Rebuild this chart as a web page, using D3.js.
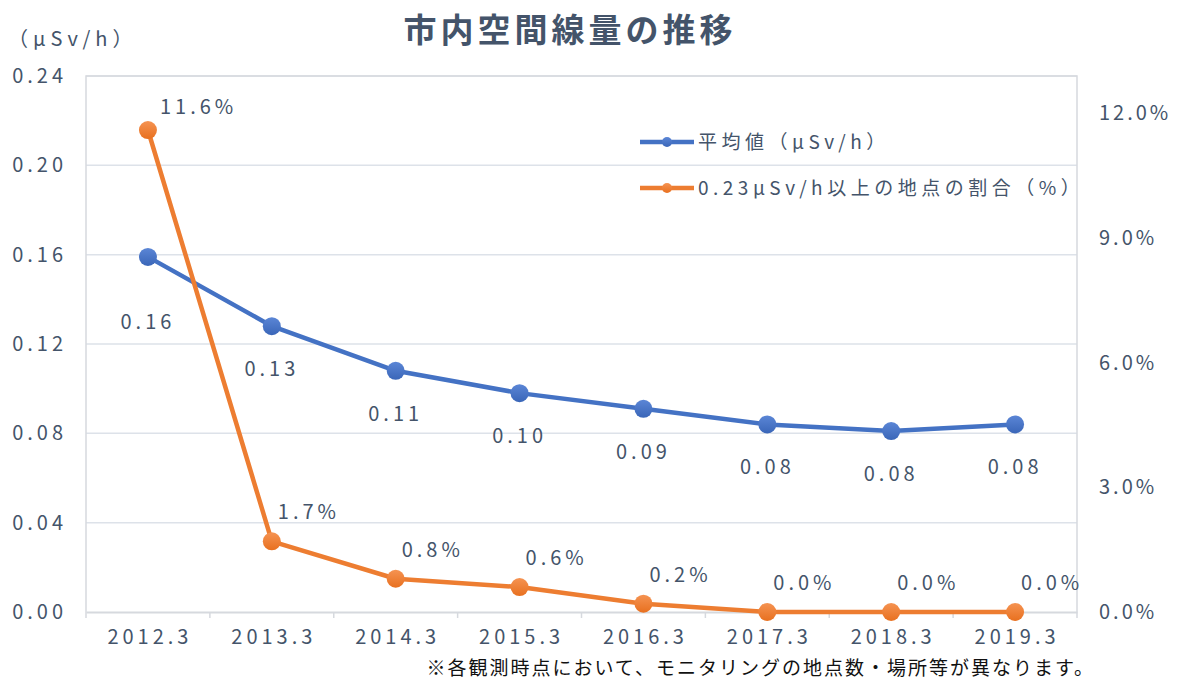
<!DOCTYPE html>
<html>
<head>
<meta charset="utf-8">
<script src="https://cdn.jsdelivr.net/npm/d3@7/dist/d3.min.js"></script>
<style>
  body { margin: 0; background: #fff; }
  text { font-family: "Noto Sans CJK JP", "Noto Sans", sans-serif; fill: #44546a; }
</style>
</head>
<body>
<svg id="chart" width="1178" height="684"></svg>
<script>
const years = ['2012.3', '2013.3', '2014.3', '2015.3', '2016.3', '2017.3', '2018.3', '2019.3'];
const avgDose = [0.159, 0.128, 0.108, 0.098, 0.091, 0.084, 0.081, 0.084];
const avgLabels = ['0.16', '0.13', '0.11', '0.10', '0.09', '0.08', '0.08', '0.08'];
const overShare = [11.6, 1.7, 0.8, 0.6, 0.2, 0.0, 0.0, 0.0];
const leftTicks = [0, 0.04, 0.08, 0.12, 0.16, 0.20, 0.24];
const rightTicks = [0, 3, 6, 9, 12];

const svg = d3.select('#chart');
const m = {left: 86, right: 1077, top: 76, bottom: 612};
const LS = '4px';

const x = d3.scaleBand().domain(years).range([m.left, m.right]);
const yL = d3.scaleLinear().domain([0, 0.24]).range([m.bottom, m.top]);
const yR = d3.scaleLinear().domain([0, 12.9]).range([m.bottom, m.top]);

const defs = svg.append('defs');
[['gBlue', '#5b86d6', '#3a66b8'], ['gOrange', '#f59352', '#e8701f']].forEach(([id, c1, c2]) => {
  const g = defs.append('linearGradient').attr('id', id).attr('x1', 0).attr('y1', 0).attr('x2', 0).attr('y2', 1);
  g.append('stop').attr('offset', '0%').attr('stop-color', c1);
  g.append('stop').attr('offset', '100%').attr('stop-color', c2);
});

// title
svg.append('text').attr('x', 570).attr('y', 42).attr('text-anchor', 'middle')
  .style('font-size', '33px').style('font-weight', 'bold').style('letter-spacing', '4px')
  .text('市内空間線量の推移');

svg.append('text').attr('x', 8).attr('y', 46).style('font-size', '20px').style('letter-spacing', '5px')
  .text('（μSv/h）');

// grid
svg.append('g').selectAll('line').data(leftTicks.slice(1)).join('line')
  .attr('x1', m.left).attr('x2', m.right)
  .attr('y1', d => yL(d)).attr('y2', d => yL(d))
  .attr('stroke', '#dde2e9').attr('stroke-width', 1.5);

// frame
svg.append('path')
  .attr('d', `M${m.left},${m.bottom}V${m.top}H${m.right}V${m.bottom}`)
  .attr('fill', 'none').attr('stroke', '#d6d9de').attr('stroke-width', 1.5);

// x axis
const xAxis = svg.append('g').attr('transform', `translate(0,${m.bottom})`)
  .call(d3.axisBottom(x).tickSize(0).tickPadding(18));
xAxis.select('.domain').attr('stroke', '#d6d9de').attr('stroke-width', 2);
xAxis.selectAll('text').style('font-size', '20px').style('letter-spacing', LS)
  .attr('dx', 2).attr('fill', '#44546a');
xAxis.selectAll('.sep').data(d3.range(years.length + 1)).join('line')
  .attr('x1', i => m.left + i * x.bandwidth()).attr('x2', i => m.left + i * x.bandwidth())
  .attr('y1', 0).attr('y2', 6).attr('stroke', '#d6d9de').attr('stroke-width', 1.5);

// left axis
const lAxis = svg.append('g').attr('transform', `translate(67,0)`)
  .call(d3.axisLeft(yL).tickValues(leftTicks).tickFormat(d3.format('.2f')).tickSize(0).tickPadding(0));
lAxis.select('.domain').remove();
lAxis.selectAll('text').style('font-size', '20px').style('letter-spacing', LS).attr('fill', '#44546a');

// right axis
const rAxis = svg.append('g').attr('transform', `translate(1099,0)`)
  .call(d3.axisRight(yR).tickValues(rightTicks).tickFormat(d => d.toFixed(1) + '%').tickSize(0).tickPadding(0));
rAxis.select('.domain').remove();
rAxis.selectAll('text').style('font-size', '20px').style('letter-spacing', '3px').attr('fill', '#44546a');

// lines
const lineL = d3.line().x((d, i) => x(years[i]) + x.bandwidth() / 2).y(d => yL(d));
const lineR = d3.line().x((d, i) => x(years[i]) + x.bandwidth() / 2).y(d => yR(d));

svg.append('path').datum(avgDose).attr('d', lineL)
  .attr('fill', 'none').attr('stroke', '#4472c4').attr('stroke-width', 4.5).attr('stroke-linejoin', 'round');
svg.append('path').datum(overShare).attr('d', lineR)
  .attr('fill', 'none').attr('stroke', '#ed7d31').attr('stroke-width', 4.5).attr('stroke-linejoin', 'round');

svg.append('g').selectAll('circle').data(avgDose).join('circle')
  .attr('cx', (d, i) => x(years[i]) + x.bandwidth() / 2).attr('cy', d => yL(d))
  .attr('r', 9).attr('fill', 'url(#gBlue)');
svg.append('g').selectAll('circle').data(overShare).join('circle')
  .attr('cx', (d, i) => x(years[i]) + x.bandwidth() / 2).attr('cy', d => yR(d))
  .attr('r', 9).attr('fill', 'url(#gOrange)');

// data labels
svg.append('g').selectAll('text').data(avgDose).join('text')
  .attr('x', (d, i) => x(years[i]) + x.bandwidth() / 2)
  .attr('y', (d, i) => yL(d) + (i === 0 ? 72 : 50))
  .attr('text-anchor', 'middle').style('font-size', '20px').style('letter-spacing', LS)
  .text((d, i) => avgLabels[i]);
svg.append('g').selectAll('text').data(overShare).join('text')
  .attr('x', (d, i) => x(years[i]) + x.bandwidth() / 2 + (i === 0 ? 12 : 6))
  .attr('y', (d, i) => yR(d) - (i === 0 ? 16 : 22))
  .style('font-size', '20px').style('letter-spacing', LS)
  .text(d => d.toFixed(1) + '%');

// legend
const legend = [['平均値（μSv/h）', '#4472c4', 'url(#gBlue)'],
                ['0.23μSv/h以上の地点の割合（%）', '#ed7d31', 'url(#gOrange)']];
const lg = svg.append('g').selectAll('g').data(legend).join('g')
  .attr('transform', (d, i) => `translate(640,${142 + i * 46})`);
lg.append('line').attr('x1', 0).attr('x2', 54).attr('stroke', d => d[1]).attr('stroke-width', 4.5);
lg.append('circle').attr('cx', 27).attr('r', 5).attr('fill', d => d[2]);
lg.append('text').attr('x', 58).attr('dy', '0.35em').style('font-size', '19px').style('letter-spacing', '4.5px')
  .text(d => d[0]);

// footnote
svg.append('text').attr('x', 1095).attr('y', 675).attr('text-anchor', 'end')
  .style('font-size', '19px').style('letter-spacing', '2px').style('fill', '#111')
  .text('※各観測時点において、モニタリングの地点数・場所等が異なります。');
</script>
</body>
</html>
